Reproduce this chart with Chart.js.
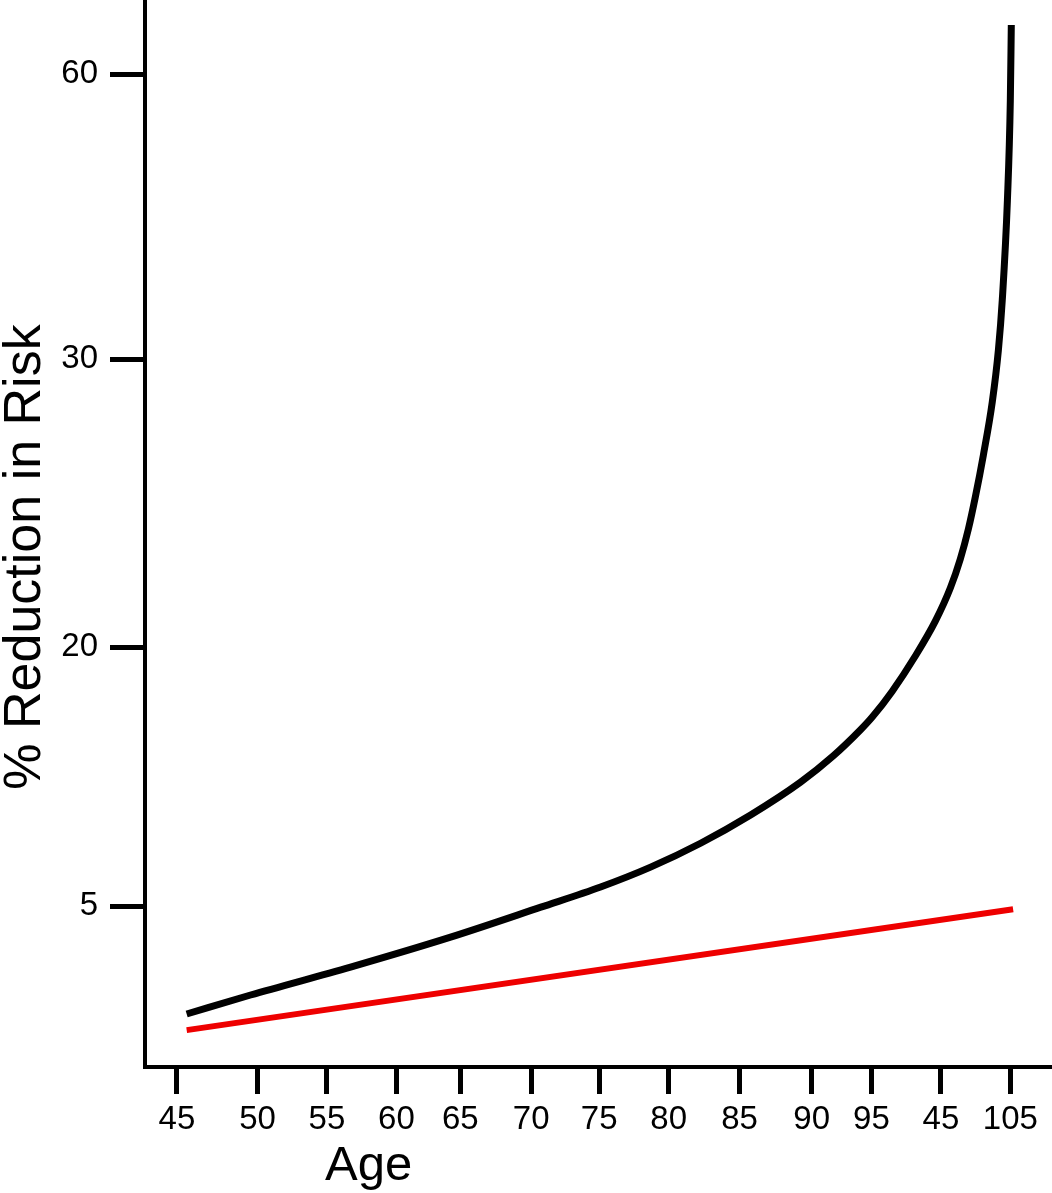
<!DOCTYPE html>
<html>
<head>
<meta charset="utf-8">
<script src="https://cdn.jsdelivr.net/npm/chart.js@4"></script>
<style>
  html, body { margin: 0; padding: 0; background: #fff; }
  canvas { display: block; }
</style>
</head>
<body>
<canvas id="riskChart" width="1052" height="1193"></canvas>
<script>
  // axis ticks (the picture's own labels, including the odd "45" near the end)
  const ageTicks = [45, 50.8, 55.8, 60.8, 65.4, 70.5, 75.4, 80.4, 85.5, 90.7, 95, 100, 105];
  const ageLabels = ["45", "50", "55", "60", "65", "70", "75", "80", "85", "90", "95", "45", "105"];
  const riskTicks = [11, 20, 30, 39.9];
  const riskLabels = ["5", "20", "30", "60"];

  // black curve
  const blackAge = [45.7, 50.3, 57.5, 64.7, 71.2, 75.5, 79.1, 82.7, 86.3, 89.9, 92.25, 94.2, 95.06, 96.5,
                    98.16, 99.6, 100.68, 101.4, 101.98, 102.48, 103.06, 103.7, 104.14, 104.42, 104.79, 105.0, 105.07];
  const blackRisk = [7.26, 7.92, 8.89, 9.93, 10.97, 11.67, 12.36, 13.19, 14.17, 15.31, 16.22, 17.12, 17.57, 18.47,
                     19.69, 20.9, 22.05, 23.06, 24.1, 25.21, 26.67, 28.51, 30.31, 32.05, 35.52, 38.99, 41.6];

  // red line
  const redAge = [45.7, 105.2];
  const redRisk = [6.7, 10.9];

  const font = "'Liberation Sans', Arial, sans-serif";

  function toPoints(xs, ys) {
    return xs.map((x, i) => ({ x: x, y: ys[i] }));
  }

  // axis titles sit off-centre in the original, so draw them here
  const axisTitles = {
    id: "axisTitles",
    afterDraw(chart) {
      const ctx = chart.ctx;
      const area = chart.chartArea;
      ctx.save();
      ctx.fillStyle = "#000";
      ctx.textBaseline = "alphabetic";
      ctx.font = "49px " + font;
      ctx.textAlign = "left";
      ctx.fillText("Age", area.left + 180, area.bottom + 113);

      ctx.translate(40, area.top + 557);
      ctx.rotate(-Math.PI / 2);
      ctx.font = "52px " + font;
      ctx.textAlign = "center";
      ctx.fillText("% Reduction in Risk", 0, 0);
      ctx.restore();
    }
  };

  const ctxRisk = document.getElementById("riskChart");

  const riskChart = new Chart(ctxRisk, {
    type: "line",
    data: {
      datasets: [
        {
          data: toPoints(redAge, redRisk),
          borderColor: "#ee0000",
          borderWidth: 6,
          borderCapStyle: "butt",
          pointRadius: 0,
          fill: false
        },
        {
          data: toPoints(blackAge, blackRisk),
          borderColor: "#000000",
          borderWidth: 7,
          borderCapStyle: "butt",
          cubicInterpolationMode: "monotone",
          pointRadius: 0,
          fill: false
        }
      ]
    },
    options: {
      responsive: false,
      animation: false,
      layout: { padding: 0 },
      plugins: {
        legend: { display: false },
        tooltip: { enabled: false }
      },
      scales: {
        x: {
          type: "linear",
          min: 42.7,
          max: 108,
          afterBuildTicks: (axis) => {
            axis.ticks = ageTicks.map((v) => ({ value: v }));
          },
          afterFit: (axis) => {
            axis.height = 126;
            axis.paddingLeft = 0;
            axis.paddingRight = 0;
          },
          border: { display: true, color: "#000", width: 4 },
          grid: {
            drawOnChartArea: false,
            drawTicks: true,
            tickLength: 27,
            tickWidth: 5,
            tickColor: "#000"
          },
          ticks: {
            autoSkip: false,
            maxRotation: 0,
            padding: 6,
            color: "#000",
            font: { family: font, size: 33 },
            callback: (value, index) => ageLabels[index]
          }
        },
        y: {
          type: "linear",
          min: 5.42,
          max: 42.47,
          afterBuildTicks: (axis) => {
            axis.ticks = riskTicks.map((v) => ({ value: v }));
          },
          afterFit: (axis) => {
            axis.width = 145;
            axis.paddingTop = 0;
            axis.paddingBottom = 0;
          },
          border: { display: true, color: "#000", width: 4 },
          grid: {
            drawOnChartArea: false,
            drawTicks: true,
            tickLength: 35,
            tickWidth: 5,
            tickColor: "#000"
          },
          ticks: {
            padding: 12,
            color: "#000",
            font: { family: font, size: 33 },
            callback: (value, index) => riskLabels[index]
          }
        }
      }
    },
    plugins: [axisTitles]
  });
</script>
</body>
</html>
